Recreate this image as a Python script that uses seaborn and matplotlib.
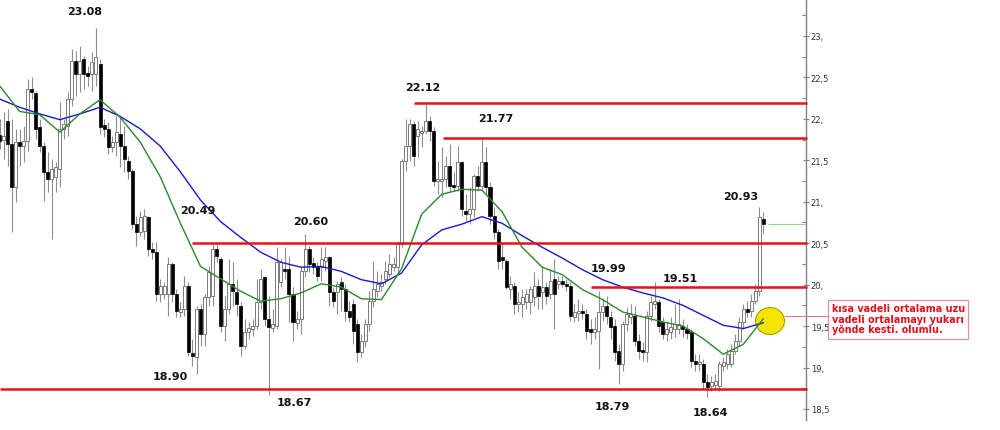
import matplotlib
matplotlib.use("Agg")
import numpy as np
import pandas as pd
import matplotlib.pyplot as plt
import seaborn as sns
from matplotlib.patches import Ellipse, Rectangle
from matplotlib.transforms import IdentityTransform
from matplotlib.lines import Line2D

# ---------------- data ----------------
opens = [21.81,21.75,21.97,21.70,21.18,21.72,21.67,21.73,22.36,22.31,
         21.90,21.67,21.36,21.27,21.30,21.40,21.88,21.91,22.24,22.70,
         22.54,22.72,22.55,22.54,22.54,22.66,21.93,21.88,21.66,21.72,
         21.82,21.67,21.49,21.37,20.73,20.64,20.65,20.82,20.43,20.39,
         19.89,19.89,19.89,20.25,19.89,19.67,19.71,19.98,19.18,19.13,
         19.71,19.41,19.85,19.86,20.43,20.31,19.50,19.71,20.01,19.91,
         19.74,19.26,19.43,19.47,19.50,19.79,20.09,19.59,19.48,19.50,
         20.03,20.19,20.19,19.89,19.54,19.59,20.16,20.43,20.26,20.21,
         20.21,20.29,20.33,19.91,19.91,20.03,19.95,19.68,19.77,19.53,
         19.19,19.32,19.53,19.80,19.92,19.98,20.07,20.13,20.21,20.21,
         20.49,21.49,21.67,21.94,21.79,21.83,21.85,21.97,21.85,21.25,
         21.25,21.27,21.43,21.19,21.19,21.48,20.89,20.85,20.91,21.31,
         21.19,21.48,21.18,20.83,20.64,20.33,20.29,19.95,19.98,19.77,
         19.77,19.79,19.79,19.85,19.98,19.91,19.97,19.89,20.07,20.01,
         20.04,20.01,19.98,19.61,19.66,19.68,19.65,19.47,19.43,19.44,
         19.67,19.74,19.61,19.50,19.20,19.04,19.53,19.61,19.62,19.32,
         19.20,19.19,19.62,19.77,19.79,19.55,19.41,19.43,19.47,19.47,
         19.50,19.47,19.43,19.08,19.04,19.04,18.83,18.78,18.79,18.78,
         19.02,19.04,19.04,19.20,19.32,19.55,19.71,19.68,19.80,19.92,
         20.79]
closes = [21.73,21.79,21.70,21.18,21.72,21.67,21.73,22.36,22.32,21.88,
          21.67,21.36,21.27,21.40,21.42,21.88,21.94,22.24,22.70,22.54,
          22.70,22.54,22.52,22.69,22.75,21.90,21.88,21.66,21.72,21.84,
          21.67,21.52,21.37,20.73,20.64,20.82,20.83,20.43,20.39,19.89,
          19.98,19.98,20.25,19.89,19.68,19.71,19.98,19.19,19.14,19.71,
          19.41,19.85,20.15,20.43,20.35,19.50,19.71,20.01,19.92,19.77,
          19.26,19.43,19.48,19.50,19.79,20.07,19.59,19.49,19.53,20.27,
          20.27,20.16,19.89,19.55,19.59,20.16,20.43,20.25,20.21,20.10,
          20.31,20.33,19.91,19.80,20.01,19.95,19.68,19.61,19.44,19.19,
          19.32,19.53,19.80,19.95,20.01,20.03,20.16,20.25,20.25,20.49,
          21.49,21.67,21.94,21.55,21.88,21.85,21.97,21.85,21.25,21.27,
          21.27,21.43,21.19,21.18,21.48,20.91,20.85,20.91,21.31,21.19,
          21.48,21.18,20.83,20.64,20.29,20.30,19.97,20.01,19.77,19.79,
          19.85,19.89,19.95,19.98,19.86,19.97,19.86,20.04,19.89,20.04,
          20.01,19.98,19.62,19.67,19.68,19.66,19.44,19.43,19.47,19.67,
          19.74,19.62,19.49,19.19,19.04,19.53,19.65,19.65,19.32,19.20,
          19.19,19.62,19.79,19.80,19.50,19.41,19.47,19.49,19.53,19.53,
          19.47,19.42,19.08,19.04,19.07,18.83,18.77,18.83,18.84,19.04,
          19.07,19.16,19.20,19.32,19.55,19.71,19.67,19.80,19.92,20.82,
          20.73]
highs = [22.00,22.08,22.12,22.00,21.88,21.88,21.91,22.48,22.51,22.34,
         22.00,21.72,21.60,21.52,21.48,22.20,22.00,22.32,22.84,22.82,
         22.88,22.76,22.64,22.81,23.10,22.72,22.00,21.96,21.79,22.03,
         22.02,21.91,21.55,21.40,20.83,20.89,20.91,20.83,20.51,20.51,
         20.07,20.03,20.33,20.27,19.95,19.79,20.10,20.03,19.35,19.74,
         19.77,19.89,20.23,20.49,20.49,20.33,19.86,20.31,20.27,20.07,
         19.79,19.59,19.55,19.59,20.07,20.19,20.10,19.86,19.71,20.45,
         20.31,20.45,20.35,19.97,19.68,20.23,20.61,20.47,20.33,20.27,
         20.45,20.45,20.35,19.97,20.04,20.09,20.01,19.80,19.83,19.59,
         19.41,19.59,19.92,20.29,20.16,20.13,20.29,20.37,20.33,20.53,
         21.52,22.00,22.00,21.97,21.97,21.91,22.18,22.03,21.90,21.49,
         21.66,21.55,21.70,21.36,21.67,21.49,21.09,21.18,21.34,21.43,
         21.78,21.66,21.24,20.94,20.67,20.51,20.31,20.10,20.03,19.91,
         19.95,19.95,19.98,20.15,20.07,20.23,20.03,20.19,20.31,20.10,
         20.10,20.07,20.03,19.77,19.83,19.77,19.71,19.59,19.61,19.92,
         19.83,19.86,19.68,19.59,19.28,19.56,19.73,19.77,19.74,19.41,
         19.31,19.68,19.86,20.03,19.83,19.61,19.56,19.61,19.77,19.83,
         19.59,19.53,19.47,19.16,19.16,19.10,18.92,18.90,18.92,19.08,
         19.13,19.22,19.28,19.41,19.61,19.77,19.80,19.89,20.01,20.94,
         20.88]
lows = [21.64,21.52,21.43,20.64,21.00,21.43,21.48,21.61,22.24,21.76,
        21.60,21.01,21.12,20.55,21.12,21.18,21.76,21.79,22.16,22.28,
        22.32,22.36,22.40,22.34,22.40,21.82,21.78,21.58,21.60,21.55,
        21.42,21.36,21.27,20.67,20.47,20.59,20.55,20.35,20.31,19.80,
        19.79,19.83,19.62,19.79,19.61,19.61,19.62,19.14,19.02,18.92,
        19.26,19.26,19.74,19.74,20.27,19.43,19.32,19.65,19.74,19.62,
        19.14,19.22,19.35,19.38,19.47,19.71,19.50,18.67,19.43,19.47,
        19.97,20.07,19.55,19.32,19.47,19.41,20.09,20.15,20.13,20.04,
        20.04,20.16,19.74,19.73,19.65,19.68,19.56,19.55,19.28,19.07,
        19.13,19.25,19.44,19.73,19.85,19.92,20.01,20.09,20.16,20.13,
        20.45,21.37,21.49,21.43,21.54,21.66,21.82,21.73,21.19,21.09,
        21.06,21.18,21.12,21.13,21.13,20.83,20.77,20.73,20.82,21.13,
        21.15,21.09,20.73,20.55,20.19,20.19,19.95,19.83,19.65,19.67,
        19.61,19.71,19.65,19.74,19.71,19.71,19.77,19.83,19.47,19.95,
        19.97,19.92,19.56,19.55,19.56,19.59,19.35,19.28,19.35,18.98,
        19.56,19.53,19.35,19.08,18.80,18.96,19.44,19.53,19.26,19.10,
        19.08,19.07,19.56,19.71,19.43,19.35,19.32,19.35,19.37,19.41,
        19.37,19.35,19.01,18.96,18.96,18.74,18.64,18.72,18.74,18.72,
        18.96,18.98,19.01,19.16,19.26,19.47,19.61,19.61,19.77,19.86,
        20.61]

ma_idx = list(range(0, 191, 5))
ma_short = [22.40, 22.09, 22.05, 21.84, 22.06, 22.23, 22.02, 21.72, 21.30, 20.74,
            20.22, 20.07, 19.92, 19.80, 19.83, 19.90, 20.01, 19.97, 19.83, 19.82,
            20.19, 20.85, 21.09, 21.15, 21.14, 20.88, 20.45, 20.21, 20.12, 19.94,
            19.82, 19.67, 19.61, 19.55, 19.50, 19.35, 19.16, 19.28, 19.59]
ma_long = [22.24, 22.14, 22.06, 21.99, 22.06, 22.14, 22.03, 21.88, 21.67, 21.36,
           21.02, 20.76, 20.57, 20.39, 20.27, 20.21, 20.22, 20.16, 20.06, 20.01,
           20.14, 20.48, 20.66, 20.73, 20.82, 20.74, 20.59, 20.45, 20.32, 20.18,
           20.06, 19.97, 19.90, 19.84, 19.75, 19.63, 19.51, 19.47, 19.54]

levels = [22.19, 21.77, 20.50, 19.97, 18.74]
level_start = [103.1, 110.3, 47.9, 147.1, 0.0]
last_price = 20.73

label_texts = ["23.08", "22.12", "21.77", "20.49", "20.60", "19.99",
               "19.51", "20.93", "18.90", "18.67", "18.79", "18.64"]
label_px = [(85, 12), (423, 88), (496, 119), (198, 211), (311, 222), (608, 269),
            (680, 279), (741, 197), (170, 377), (294, 403), (612, 407), (710, 413)]

note = "kısa vadeli ortalama uzu\nvadeli ortalamayı yukarı\nyönde kesti. olumlu."

yticks = [18.5, 19.0, 19.5, 20.0, 20.5, 21.0, 21.5, 22.0, 22.5, 23.0]

# ---------------- figure ----------------
sns.set_theme(style="white")
plt.rcParams['font.family'] = ['DejaVu Sans']

W, H = 1000, 431
fig = plt.figure(figsize=(W / 100, H / 100), dpi=100)
fig.patch.set_facecolor("white")
ax = fig.add_axes([0, 10 / H, 806 / W, 421 / H])
ax.set_facecolor("white")

df = pd.DataFrame({"o": opens, "h": highs, "l": lows, "c": closes})
df["i"] = np.arange(len(df))
up = df["c"] >= df["o"]

# wicks
ax.vlines(df["i"], df["l"], df["h"], color="#8e8e8e", linewidth=0.8, zorder=2)
# bodies
body_h = (df["c"] - df["o"]).abs().clip(lower=0.02)
body_b = df[["o", "c"]].min(axis=1)
ax.bar(df["i"][up], body_h[up], bottom=body_b[up], width=0.75,
       color="white", edgecolor="#7a7a7a", linewidth=0.7, zorder=3)
ax.bar(df["i"][~up], body_h[~up], bottom=body_b[~up], width=0.75,
       color="black", edgecolor="black", linewidth=0.5, zorder=3)

# moving averages
ma_df = pd.DataFrame({"i": ma_idx, "short": ma_short, "long": ma_long})
sns.lineplot(data=ma_df, x="i", y="long", ax=ax, color="#1a1acc", linewidth=1.0, zorder=4)
sns.lineplot(data=ma_df, x="i", y="short", ax=ax, color="#2a8a2a", linewidth=1.0, zorder=4)

xlo, xhi = 0.124, 200.6
ax.set_xlim(xlo, xhi)
ax.set_ylim(18.367, 23.446)

# red support / resistance lines
for lv, st in zip(levels, level_start):
    ax.hlines(lv, max(st, xlo), xhi + 0.3, color="#e3141b", linewidth=1.8, zorder=5, clip_on=False)

# last price line
ax.hlines(last_price, 191.2, xhi, color="#8fd88f", linewidth=0.8, zorder=5)

# yellow circle
circ = Ellipse((770, H - 322), 29, 27, transform=IdentityTransform(),
               facecolor="#f4e400", edgecolor="#a89c00", linewidth=0.8, zorder=3.5)
ax.add_artist(circ)

# connector line and note box
fig.add_artist(Line2D([785, 828], [H - 317, H - 317], transform=IdentityTransform(),
                      color="#e87070", linewidth=0.7))
fig.add_artist(Rectangle((828, H - 340), 140, 39, transform=IdentityTransform(),
                         facecolor="white", edgecolor="#e88a90", linewidth=0.8))
fig.text(832 / W, 1 - 304 / H, note, ha="left", va="top", color="#e0101a",
         fontsize=6.9, fontweight="bold", linespacing=1.08)

# price labels
for t, (px, py) in zip(label_texts, label_px):
    fig.text(px / W, 1 - py / H, t, ha="center", va="center", color="#111111",
             fontsize=8, fontweight="bold")

# axes styling
ax.set_xlabel("")
ax.set_ylabel("")
ax.set_xticks([])
for s in ["left", "top", "bottom"]:
    ax.spines[s].set_visible(False)
ax.spines["right"].set_color("#808080")
ax.spines["right"].set_linewidth(1.0)
ax.yaxis.tick_right()
ax.set_yticks(yticks)
ax.set_yticklabels([f"{v:.0f}," if float(v).is_integer() else f"{v:.1f}".replace(".", ",") for v in yticks])
ax.set_yticks([v + 0.25 for v in yticks[:-1]] + [23.25], minor=True)
ax.tick_params(axis="y", which="major", direction="inout", length=5, width=0.8,
               color="#808080", labelcolor="#333333", labelsize=6, pad=1)
ax.tick_params(axis="y", which="minor", direction="in", length=3, width=0.7, color="#808080")
ax.grid(False)
if ax.get_legend() is not None:
    ax.get_legend().remove()

fig.savefig("out.png", dpi=100, facecolor="white")
